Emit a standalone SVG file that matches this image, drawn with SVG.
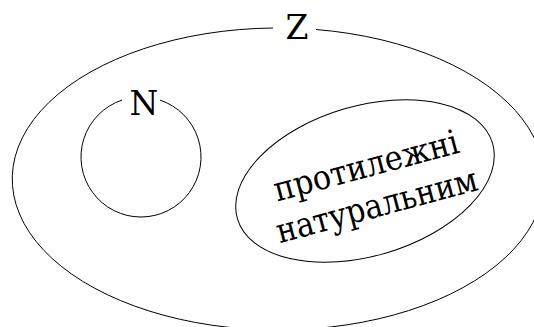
<svg xmlns="http://www.w3.org/2000/svg" width="534" height="327" viewBox="0 0 534 327">
<style>
.ln{fill:none;stroke:#000;stroke-width:1}
.lbl{font-family:"DejaVu Serif",serif;font-size:33px;fill:#000;text-anchor:middle}
.txt{font-family:"DejaVu Serif",serif;font-size:34px;fill:#000;text-anchor:middle}
</style>
<rect width="534" height="327" fill="#fff"/>
<g id="Z">
<path class="ln" d="M316,29.5 A266,151 0 1 1 273,28"/>
<text class="lbl" x="297" y="39">Z</text>
</g>
<g id="N">
<path class="ln" d="M160,100.1 A60,60 0 1 1 122,100.1"/>
<text class="lbl" x="144" y="115">N</text>
</g>
<g id="negatives">
<ellipse class="ln" cx="0" cy="0" rx="133" ry="75" transform="translate(365,181) rotate(-16.5)"/>
<g transform="translate(365,181) rotate(-15)">
<text class="txt" x="5" y="-3" textLength="190" lengthAdjust="spacingAndGlyphs">протилежні</text>
<text class="txt" x="5" y="38" textLength="207" lengthAdjust="spacingAndGlyphs">натуральним</text>
</g>
</g>
</svg>
